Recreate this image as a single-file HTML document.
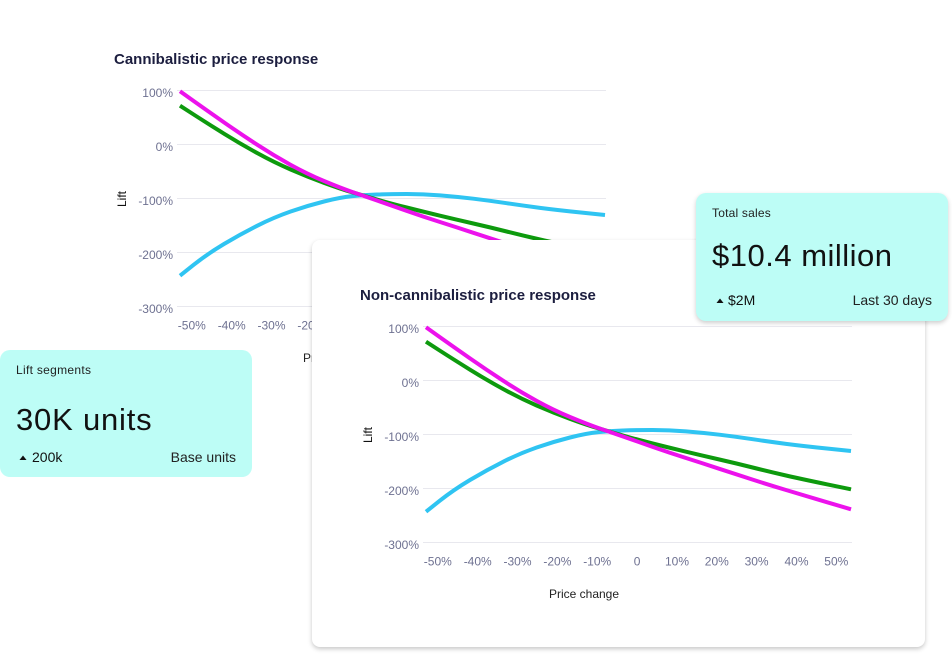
<!DOCTYPE html>
<html><head><meta charset="utf-8">
<style>
html,body{margin:0;padding:0;background:#fff;}
body{width:952px;height:656px;position:relative;overflow:hidden;font-family:"Liberation Sans",sans-serif;}
.layer{position:absolute;left:0;top:0;}
.card2{position:absolute;left:312px;top:240px;width:613px;height:407px;background:#fff;border-radius:8px;box-shadow:0 2px 5px rgba(0,0,0,0.22);}
.mint{position:absolute;background:#bdfdf6;border-radius:10px;}
</style></head>
<body>
<svg class="layer" width="952" height="656" style="z-index:1">
  <g transform="translate(-246,-236)">
    <g stroke="#e8e8ee" stroke-width="1">
      <line x1="423" x2="852" y1="326.5" y2="326.5"/>
      <line x1="423" x2="852" y1="380.5" y2="380.5"/>
      <line x1="423" x2="852" y1="434.5" y2="434.5"/>
      <line x1="423" x2="852" y1="488.5" y2="488.5"/>
      <line x1="423" x2="852" y1="542.5" y2="542.5"/>
    </g>
    <g font-size="12" fill="#6e7191" text-anchor="end">
      <text x="419" y="333">100%</text>
      <text x="419" y="387">0%</text>
      <text x="419" y="441">-100%</text>
      <text x="419" y="495">-200%</text>
      <text x="419" y="549">-300%</text>
    </g>
    <g font-size="12" fill="#6e7191" text-anchor="middle">
      <text x="437.8" y="565.5">-50%</text>
      <text x="477.7" y="565.5">-40%</text>
      <text x="517.5" y="565.5">-30%</text>
      <text x="557.4" y="565.5">-20%</text>
      <text x="597.2" y="565.5">-10%</text>
      <text x="637.1" y="565.5">0</text>
      <text x="677" y="565.5">10%</text>
      <text x="716.8" y="565.5">20%</text>
      <text x="756.6" y="565.5">30%</text>
      <text x="796.5" y="565.5">40%</text>
      <text x="836.3" y="565.5">50%</text>
    </g>
    <text x="584" y="598" font-size="12" fill="#222" text-anchor="middle">Price change</text>
    <text transform="translate(368,435) rotate(-90)" font-size="12" fill="#111" text-anchor="middle" dominant-baseline="central">Lift</text>
    <g fill="none" stroke-width="4" stroke-linejoin="round" stroke-linecap="butt">
      <path stroke="#2fc4f2" d="M426,511.7 L439.65,500.85 Q453.3,490 470,480 Q486.7,470 503.35,461.65 Q520,453.3 536.65,447.5 Q553.3,441.7 570,437.5 Q586.7,433.3 598.35,432.15 Q610,431 623,430.5 Q636,430 652.65,430 Q669.3,430 686,431.35 Q702.7,432.7 719.35,434.7 Q736,436.7 752.65,439.2 Q769.3,441.7 786,443.85 Q802.7,446 826.85,448.5 L851,451"/>
      <path stroke="#0d9a0d" d="M426,341.7 L439.65,350.5 Q453.3,359.3 470,369.65 Q486.7,380 503.35,389.15 Q520,398.3 536.65,405.5 Q553.3,412.7 570,418.85 Q586.7,425 598.35,428.35 Q610,431.7 623,435.5 Q636,439.3 652.65,443.5 Q669.3,447.7 686,451.7 Q702.7,455.7 719.35,459.5 Q736,463.3 752.65,467.5 Q769.3,471.7 786,475.5 Q802.7,479.3 826.85,484.3 L851,489.3"/>
      <path stroke="#ec12ec" d="M426,327.3 L439.65,337 Q453.3,346.7 470,358.35 Q486.7,370 503.35,380.85 Q520,391.7 536.65,400.85 Q553.3,410 570,417 Q586.7,424 598.35,428 Q610,432 623,436.5 Q636,441 652.65,446.85 Q669.3,452.7 686,458 Q702.7,463.3 719.35,468.8 Q736,474.3 752.65,479.65 Q769.3,485 786,490 Q802.7,495 826.85,502.15 L851,509.3"/>
    </g>
  </g>
  <text x="114" y="64" font-size="15" font-weight="bold" fill="#1c1e3f">Cannibalistic price response</text>
</svg>

<div class="card2" style="z-index:2"></div>
<div class="mint" style="left:0;top:350px;width:252px;height:127px;z-index:3"></div>
<div class="mint" style="left:696px;top:193px;width:252px;height:128px;z-index:3;box-shadow:0 2px 5px rgba(0,0,0,0.2)"></div>

<svg class="layer" width="952" height="656" style="z-index:4">
  <g>
    <g stroke="#e8e8ee" stroke-width="1">
      <line x1="423" x2="852" y1="326.5" y2="326.5"/>
      <line x1="423" x2="852" y1="380.5" y2="380.5"/>
      <line x1="423" x2="852" y1="434.5" y2="434.5"/>
      <line x1="423" x2="852" y1="488.5" y2="488.5"/>
      <line x1="423" x2="852" y1="542.5" y2="542.5"/>
    </g>
    <g font-size="12" fill="#6e7191" text-anchor="end">
      <text x="419" y="333">100%</text>
      <text x="419" y="387">0%</text>
      <text x="419" y="441">-100%</text>
      <text x="419" y="495">-200%</text>
      <text x="419" y="549">-300%</text>
    </g>
    <g font-size="12" fill="#6e7191" text-anchor="middle">
      <text x="437.8" y="565.5">-50%</text>
      <text x="477.7" y="565.5">-40%</text>
      <text x="517.5" y="565.5">-30%</text>
      <text x="557.4" y="565.5">-20%</text>
      <text x="597.2" y="565.5">-10%</text>
      <text x="637.1" y="565.5">0</text>
      <text x="677" y="565.5">10%</text>
      <text x="716.8" y="565.5">20%</text>
      <text x="756.6" y="565.5">30%</text>
      <text x="796.5" y="565.5">40%</text>
      <text x="836.3" y="565.5">50%</text>
    </g>
    <text x="584" y="598" font-size="12" fill="#222" text-anchor="middle">Price change</text>
    <text transform="translate(368,435) rotate(-90)" font-size="12" fill="#111" text-anchor="middle" dominant-baseline="central">Lift</text>
    <g fill="none" stroke-width="4" stroke-linejoin="round" stroke-linecap="butt">
      <path stroke="#2fc4f2" d="M426,511.7 L439.65,500.85 Q453.3,490 470,480 Q486.7,470 503.35,461.65 Q520,453.3 536.65,447.5 Q553.3,441.7 570,437.5 Q586.7,433.3 598.35,432.15 Q610,431 623,430.5 Q636,430 652.65,430 Q669.3,430 686,431.35 Q702.7,432.7 719.35,434.7 Q736,436.7 752.65,439.2 Q769.3,441.7 786,443.85 Q802.7,446 826.85,448.5 L851,451"/>
      <path stroke="#0d9a0d" d="M426,341.7 L439.65,350.5 Q453.3,359.3 470,369.65 Q486.7,380 503.35,389.15 Q520,398.3 536.65,405.5 Q553.3,412.7 570,418.85 Q586.7,425 598.35,428.35 Q610,431.7 623,435.5 Q636,439.3 652.65,443.5 Q669.3,447.7 686,451.7 Q702.7,455.7 719.35,459.5 Q736,463.3 752.65,467.5 Q769.3,471.7 786,475.5 Q802.7,479.3 826.85,484.3 L851,489.3"/>
      <path stroke="#ec12ec" d="M426,327.3 L439.65,337 Q453.3,346.7 470,358.35 Q486.7,370 503.35,380.85 Q520,391.7 536.65,400.85 Q553.3,410 570,417 Q586.7,424 598.35,428 Q610,432 623,436.5 Q636,441 652.65,446.85 Q669.3,452.7 686,458 Q702.7,463.3 719.35,468.8 Q736,474.3 752.65,479.65 Q769.3,485 786,490 Q802.7,495 826.85,502.15 L851,509.3"/>
    </g>
    <text x="360" y="300" font-size="15" font-weight="bold" fill="#1c1e3f">Non-cannibalistic price response</text>
  </g>

  <text x="16" y="374" font-size="12" fill="#222" letter-spacing="0.3">Lift segments</text>
  <text x="16" y="430" font-size="31" fill="#111" letter-spacing="0.8">30K units</text>
  <polygon points="19.5,460 26.5,460 23,455.5" fill="#111"/>
  <text x="32" y="462" font-size="14" fill="#111">200k</text>
  <text x="236" y="462" font-size="14" fill="#222" text-anchor="end">Base units</text>

  <text x="712" y="217" font-size="12" fill="#222" letter-spacing="0.2">Total sales</text>
  <text x="712" y="266" font-size="31" fill="#111" letter-spacing="0.5">$10.4 million</text>
  <polygon points="716.5,303 723.5,303 720,298.5" fill="#111"/>
  <text x="728" y="305" font-size="14" fill="#111">$2M</text>
  <text x="932" y="305" font-size="14" fill="#222" text-anchor="end">Last 30 days</text>
</svg>
</body></html>
